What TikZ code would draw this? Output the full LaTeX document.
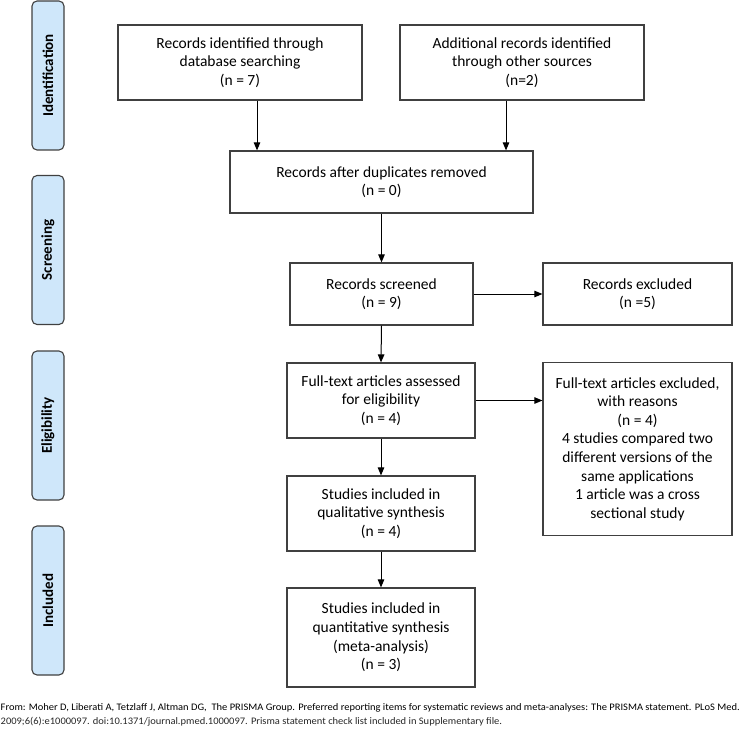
\documentclass[tikz,border=0pt]{standalone}
\usepackage{fontspec}
\setmainfont{Carlito}
\usepackage{graphicx}
\usetikzlibrary{arrows.meta}
\definecolor{sidefill}{RGB}{207,231,250}
\definecolor{boxline}{RGB}{64,64,64}
\newsavebox\footlineA
\tikzset{
 box/.style={draw=boxline, line width=1.2pt, align=center, font=\fontsize{15.5}{18.6}\selectfont, inner sep=0pt},
 side/.style={draw=boxline, line width=1.1pt, fill=sidefill, rounded corners=5pt, rotate=90, font=\fontsize{15}{17}\selectfont\bfseries, minimum width=149pt, minimum height=32pt, inner sep=0pt},
 arr/.style={-{Triangle[length=8pt,width=6.5pt]}, line width=1pt, black},
 foot/.style={anchor=west, inner sep=0pt, text=black!85}
}
\begin{document}
\sbox\footlineA{\fontsize{10}{11}\selectfont From: Moher D, Liberati A, Tetzlaff J, Altman DG,\ \ The PRISMA Group. Preferred reporting items for systematic reviews and meta-analyses: The PRISMA statement. PLoS Med.}%
\pgfmathsetmacro\footscale{739/\the\wd\footlineA}%
\begin{tikzpicture}[x=1pt,y=-1pt]
\useasboundingbox (0,0) rectangle (741,738);
% side labels
\node[side] (s1) at (48,75.5) {Identification};
\node[side] (s2) at (48,250) {Screening};
\node[side] (s3) at (48,425.5) {Eligibility};
\node[side] (s4) at (48,600.5) {Included};
% boxes
\node[box, minimum width=244pt, minimum height=75pt] (b1) at (240,62.5) {Records identified through\\database searching\\(n = 7)};
\node[box, minimum width=244pt, minimum height=75pt] (b2) at (522,62.5) {Additional records identified\\through other sources\\(n=2)};
\node[box, minimum width=303pt, minimum height=62pt] (b3) at (381.5,182) {Records after duplicates removed\\(n = 0)};
\node[box, minimum width=183pt, minimum height=62pt] (b4) at (381.5,294) {Records screened\\(n = 9)};
\node[box, minimum width=189pt, minimum height=62pt] (b5) at (637.5,294) {Records excluded\\(n =5)};
\node[box, minimum width=188pt, minimum height=75pt] (b6) at (381,400.5) {Full-text articles assessed\\for eligibility\\(n = 4)};
\node[box, minimum width=189pt, minimum height=173pt] (b7) at (637.5,449) {Full-text articles excluded,\\with reasons\\(n = 4)\\4 studies compared two\\different versions of the\\same applications\\1 article was a cross\\sectional study};
\node[box, minimum width=188pt, minimum height=75pt] (b8) at (381,513.5) {Studies included in\\qualitative synthesis\\(n = 4)};
\node[box, minimum width=188pt, minimum height=99pt] (b9) at (381,637.5) {Studies included in\\quantitative synthesis\\(meta-analysis)\\(n = 3)};
% connectors
\coordinate (xa) at (257,0);
\coordinate (xb) at (506,0);
\draw[arr] (xa |- b1.south) -- (xa |- b3.north);
\draw[arr] (xb |- b2.south) -- (xb |- b3.north);
\draw[arr] (b3.south) -- (b4.north);
\draw[arr] (b4.east) -- (b5.west);
\draw[arr] (b4.south) -- (b6.north);
\draw[arr] (b6.east) -- (b6.east -| b7.west);
\draw[arr] (b6.south) -- (b8.north);
\draw[arr] (b8.south) -- (b9.north);
% footer
\node[foot] (f1) at (0.5,708) {\scalebox{\footscale}[1]{\usebox\footlineA}};
\node[foot] (f2) at (0.5,722) {\scalebox{\footscale}[1]{\fontsize{10}{11}\selectfont 2009;6(6):e1000097. doi:10.1371/journal.pmed.1000097. Prisma statement check list included in Supplementary file.}};
\end{tikzpicture}
\end{document}
